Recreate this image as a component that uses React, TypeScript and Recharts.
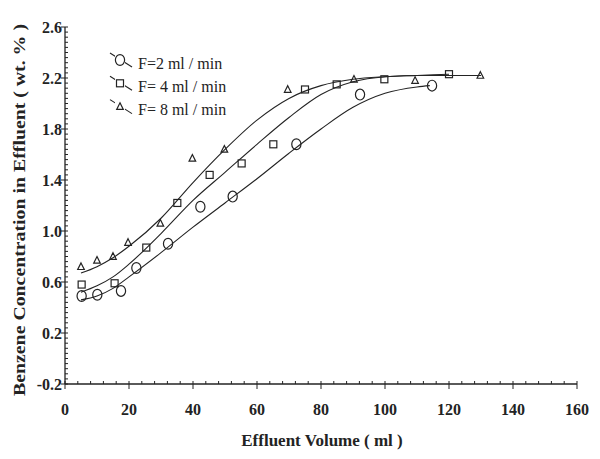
import { ScatterChart, Scatter, XAxis, YAxis } from "recharts";

// measured points, effluent volume (ml) vs benzene conc. (wt. %)
const f2X = [5.2, 10.1, 17.5, 22.3, 32.2, 42.3, 52.4, 72.3, 92.2, 114.7];
const f2Y = [0.49, 0.5, 0.53, 0.71, 0.9, 1.19, 1.27, 1.68, 2.07, 2.14];
const f4X = [5.2, 15.5, 25.4, 35.1, 45.2, 55.2, 65.1, 75.0, 84.9, 99.8, 120.0];
const f4Y = [0.58, 0.59, 0.87, 1.22, 1.44, 1.53, 1.68, 2.11, 2.15, 2.19, 2.23];
const f8X = [5.0, 10.0, 15.0, 19.7, 29.8, 39.8, 49.8, 69.6, 90.3, 109.4, 129.8];
const f8Y = [0.72, 0.77, 0.8, 0.91, 1.06, 1.57, 1.64, 2.11, 2.19, 2.18, 2.22];

// fitted curves
const f2CurveX = [5, 10, 15, 20, 30, 40, 50, 60, 70, 80, 90, 100, 110, 114];
const f2CurveY = [0.46, 0.49, 0.55, 0.64, 0.83, 1.03, 1.22, 1.41, 1.61, 1.8, 1.97, 2.08, 2.13, 2.14];
const f4CurveX = [5, 10, 15, 20, 30, 40, 50, 60, 70, 80, 90, 100, 110, 120];
const f4CurveY = [0.52, 0.57, 0.64, 0.74, 0.98, 1.24, 1.46, 1.68, 1.89, 2.07, 2.17, 2.21, 2.22, 2.23];
const f8CurveX = [5, 10, 15, 20, 30, 40, 50, 60, 70, 80, 90, 100, 110, 120, 130];
const f8CurveY = [0.67, 0.72, 0.79, 0.88, 1.1, 1.38, 1.64, 1.87, 2.04, 2.14, 2.19, 2.21, 2.22, 2.22, 2.22];

const legendLabels = ["F=2 ml / min", "F= 4 ml / min", "F= 8 ml / min"];
const xMajor = [0, 20, 40, 60, 80, 100, 120, 140, 160];
const yMajor = [-0.2, 0.2, 0.6, 1.0, 1.4, 1.8, 2.2, 2.6];

const xTicks = Array.from({ length: 41 }, (_, i) => i * 4);
const yTicks = Array.from({ length: 71 }, (_, i) => Math.round((-0.2 + i * 0.04) * 100) / 100);
const yRightTicks = Array.from({ length: 36 }, (_, i) => Math.round((-0.2 + i * 0.08) * 100) / 100);

const zip = (xs: number[], ys: number[]) => xs.map((x, i) => ({ x, y: ys[i] }));

const INK = "#232323";
const FONT = "'Liberation Serif', 'Times New Roman', serif";

const circle = (cx: number, cy: number) => (
  <ellipse cx={cx} cy={cy} rx={4.6} ry={5.4} fill="none" stroke={INK} strokeWidth={1.2} />
);
const square = (cx: number, cy: number) => (
  <rect x={cx - 3.5} y={cy - 3.5} width={7} height={7} fill="none" stroke={INK} strokeWidth={1.2} />
);
const triangle = (cx: number, cy: number) => (
  <path d={`M${cx},${cy - 3.8}L${cx + 3.3},${cy + 2.8}L${cx - 3.3},${cy + 2.8}Z`} fill="none" stroke={INK} strokeWidth={1.2} />
);

const xTick = (props: any) => {
  const { x, y, payload } = props;
  const major = xMajor.includes(payload.value);
  return (
    <g>
      <line x1={x} x2={x} y1={y - 3} y2={major ? y + 5 : y} stroke={INK} strokeWidth={1} />
      {major && (
        <text x={x} y={y + 31} textAnchor="middle" fontFamily={FONT} fontWeight="bold" fontSize={16} fill={INK}>
          {payload.value}
        </text>
      )}
    </g>
  );
};

const yTick = (props: any) => {
  const { x, y, payload } = props;
  const major = yMajor.some((m) => Math.abs(m - payload.value) < 1e-6);
  return (
    <g>
      <line x1={major ? x - 4 : x} x2={x + 3} y1={y} y2={y} stroke={INK} strokeWidth={1} />
      {major && (
        <text x={x - 3} y={y + 5.5} textAnchor="end" fontFamily={FONT} fontWeight="bold" fontSize={16} fill={INK}>
          {payload.value.toFixed(1)}
        </text>
      )}
    </g>
  );
};

const rightTick = (props: any) => {
  const { x, y } = props;
  return <line x1={x - 3} x2={x} y1={y} y2={y} stroke={INK} strokeWidth={1} />;
};

const noDot = () => <g />;

export default function App() {
  const markers = [circle, square, triangle];
  return (
    <div style={{ position: "absolute", left: 0, top: 0, width: 600, height: 459, background: "#fff" }}>
      <ScatterChart width={600} height={459} margin={{ top: 27, right: 23, bottom: 0, left: 0 }}>
        <XAxis
          xAxisId="x"
          type="number"
          dataKey="x"
          domain={[0, 160]}
          ticks={xTicks}
          interval={0}
          tickSize={0}
          tickMargin={0}
          tickLine={false}
          tick={xTick}
          height={75}
          axisLine={{ stroke: INK, strokeWidth: 1.3 }}
        />
        <XAxis xAxisId="top" orientation="top" type="number" domain={[0, 160]} tick={false} tickLine={false} height={0} axisLine={{ stroke: INK, strokeWidth: 1.3 }} />
        <YAxis
          yAxisId="y"
          type="number"
          dataKey="y"
          domain={[-0.2, 2.6]}
          ticks={yTicks}
          interval={0}
          tickSize={0}
          tickMargin={0}
          tickLine={false}
          tick={yTick}
          width={65}
          axisLine={{ stroke: INK, strokeWidth: 1.3 }}
        />
        <YAxis
          yAxisId="right"
          orientation="right"
          type="number"
          domain={[-0.2, 2.6]}
          ticks={yRightTicks}
          interval={0}
          tickSize={0}
          tickMargin={0}
          tickLine={false}
          tick={rightTick}
          width={0}
          axisLine={{ stroke: INK, strokeWidth: 1.3 }}
        />

        <Scatter xAxisId="x" yAxisId="y" data={zip(f2CurveX, f2CurveY)} line={{ stroke: INK, strokeWidth: 1.1 }} lineJointType="monotoneX" shape={noDot} isAnimationActive={false} />
        <Scatter xAxisId="x" yAxisId="y" data={zip(f4CurveX, f4CurveY)} line={{ stroke: INK, strokeWidth: 1.1 }} lineJointType="monotoneX" shape={noDot} isAnimationActive={false} />
        <Scatter xAxisId="x" yAxisId="y" data={zip(f8CurveX, f8CurveY)} line={{ stroke: INK, strokeWidth: 1.1 }} lineJointType="monotoneX" shape={noDot} isAnimationActive={false} />

        <Scatter xAxisId="x" yAxisId="y" data={zip(f2X, f2Y)} shape={(p: any) => circle(p.cx, p.cy)} isAnimationActive={false} />
        <Scatter xAxisId="x" yAxisId="y" data={zip(f4X, f4Y)} shape={(p: any) => square(p.cx, p.cy)} isAnimationActive={false} />
        <Scatter xAxisId="x" yAxisId="y" data={zip(f8X, f8Y)} shape={(p: any) => triangle(p.cx, p.cy)} isAnimationActive={false} />
      </ScatterChart>

      {/* legend + axis titles */}
      <svg width={600} height={459} style={{ position: "absolute", left: 0, top: 0, pointerEvents: "none" }}>
        {legendLabels.map((label, i) => {
          const y = 60 + i * 23.3;
          return (
            <g key={label}>
              <line x1={110} y1={y - 7} x2={132} y2={y + 7} stroke={INK} strokeWidth={1.1} />
              <rect x={115} y={y - 5} width={10} height={10} fill="#fff" />
              {markers[i](120, y)}
              <text x={138} y={y + 8.5} fontFamily={FONT} fontSize={16} fill={INK}>
                {label}
              </text>
            </g>
          );
        })}
        <text x={322} y={446} textAnchor="middle" fontFamily={FONT} fontWeight="bold" fontSize={17} fill={INK}>
          Effluent Volume ( ml )
        </text>
        <text
          x={0}
          y={0}
          transform="translate(25,210) rotate(-90)"
          textAnchor="middle"
          fontFamily={FONT}
          fontWeight="bold"
          fontSize={17}
          textLength={372}
          lengthAdjust="spacingAndGlyphs"
          fill={INK}
        >
          Benzene Concentration in Effluent ( wt. % )
        </text>
      </svg>
    </div>
  );
}
